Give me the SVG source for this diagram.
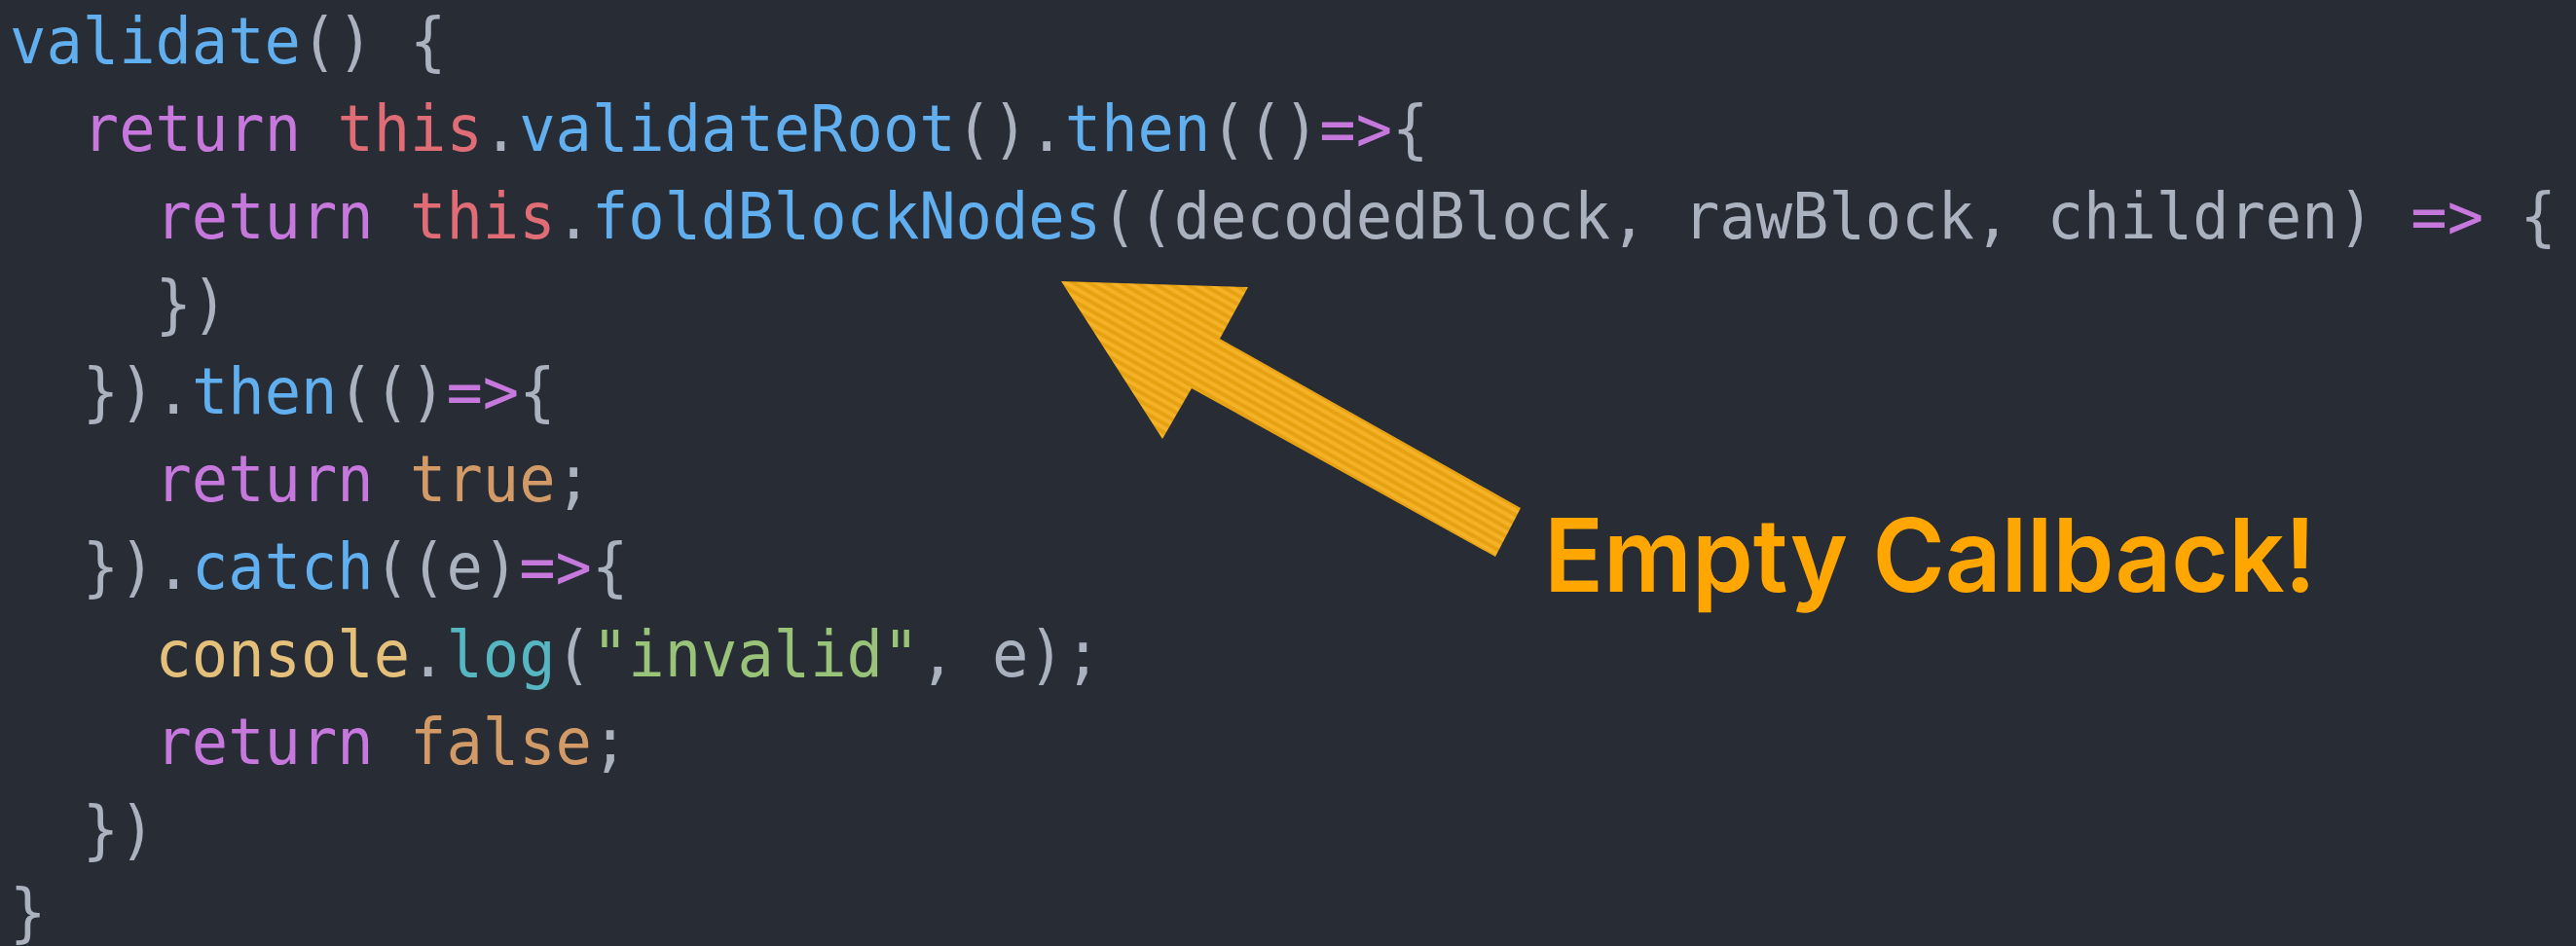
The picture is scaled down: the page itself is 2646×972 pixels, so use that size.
<svg xmlns="http://www.w3.org/2000/svg" width="2646" height="972" viewBox="0 0 2646 972">
<style>
.code{font-family:"DejaVu Sans Mono","Liberation Mono",monospace;font-size:65px;fill:#abb2bf}
.b{fill:#61afef}.p{fill:#c678dd}.r{fill:#e06c75}.o{fill:#d19a66}.y{fill:#e5c07b}.c{fill:#56b6c2}.g{fill:#98c379}
.label{font-family:"Inter","Lato","Noto Sans",sans-serif;font-weight:600;font-size:104px;fill:#ffa600}
</style>
<defs>
<pattern id="stripes" patternUnits="userSpaceOnUse" width="40" height="8" patternTransform="rotate(29.5)">
<rect width="40" height="8" fill="#f5b226"/>
<rect y="4" width="40" height="4" fill="#e6a212"/>
</pattern>
</defs>
<rect width="2646" height="972" fill="#282c35"/>
<g id="code" class="code" transform="scale(0.955 1)">
<text x="10.5" y="65" xml:space="preserve"><tspan class="b">validate</tspan>() {</text>
<text x="88.8" y="155" xml:space="preserve"><tspan class="p">return</tspan> <tspan class="r">this</tspan>.<tspan class="b">validateRoot</tspan>().<tspan class="b">then</tspan>(()<tspan class="p">=&gt;</tspan>{</text>
<text x="167" y="245" xml:space="preserve"><tspan class="p">return</tspan> <tspan class="r">this</tspan>.<tspan class="b">foldBlockNodes</tspan>((decodedBlock, rawBlock, children) <tspan class="p">=&gt;</tspan> {</text>
<text x="167" y="335" xml:space="preserve">})</text>
<text x="88.8" y="425" xml:space="preserve">}).<tspan class="b">then</tspan>(()<tspan class="p">=&gt;</tspan>{</text>
<text x="167" y="515" xml:space="preserve"><tspan class="p">return</tspan> <tspan class="o">true</tspan>;</text>
<text x="88.8" y="605" xml:space="preserve">}).<tspan class="b">catch</tspan>((e)<tspan class="p">=&gt;</tspan>{</text>
<text x="167" y="695" xml:space="preserve"><tspan class="y">console</tspan>.<tspan class="c">log</tspan>(<tspan class="g">"invalid"</tspan>, e);</text>
<text x="167" y="785" xml:space="preserve"><tspan class="p">return</tspan> <tspan class="o">false</tspan>;</text>
<text x="88.8" y="875" xml:space="preserve">})</text>
<text x="10.5" y="960" xml:space="preserve">}</text>
</g>
<g id="arrow">
<polygon points="1090,289 1282,295 1253,348 1562,522 1536,572 1224,399 1194,451" fill="url(#stripes)"/>
</g>
<g id="callout">
<text class="label" x="1586" y="608" textLength="793" lengthAdjust="spacingAndGlyphs">Empty Callback!</text>
</g>
</svg>
